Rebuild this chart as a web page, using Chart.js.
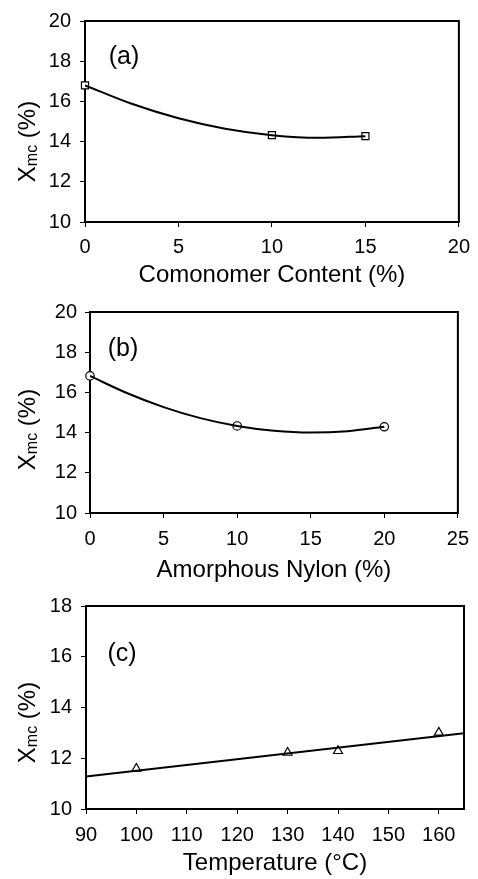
<!DOCTYPE html>
<html>
<head>
<meta charset="utf-8">
<script src="https://cdn.jsdelivr.net/npm/chart.js@4.4.0/dist/chart.umd.min.js"></script>
<style>
  html, body { margin: 0; padding: 0; background: #fff; }
  #wrap { position: relative; width: 478px; height: 879px; }
  .panel { position: absolute; left: 0; width: 478px; }
</style>
</head>
<body>
<div id="wrap">
  <div class="panel" style="top:0;height:290px"><canvas id="chartA"></canvas></div>
  <div class="panel" style="top:290px;height:295px"><canvas id="chartB"></canvas></div>
  <div class="panel" style="top:585px;height:294px"><canvas id="chartC"></canvas></div>
</div>
<script>
// ---- (a) crystallinity vs comonomer content ----
const comonomerContent = [0, 10, 15];
const xmcComonomer = [16.8, 14.32, 14.27];
const comonomerFitX = [0, 2.5, 5, 7.5, 10, 12.5, 15];
const comonomerFitY = [16.8, 15.88, 15.16, 14.64, 14.32, 14.19, 14.27];
const comonomerTicksX = [0, 5, 10, 15, 20];
const comonomerTicksY = [10, 12, 14, 16, 18, 20];

// ---- (b) crystallinity vs amorphous nylon ----
const nylonContent = [0, 10, 20];
const xmcNylon = [16.82, 14.33, 14.29];
const nylonFitX = [0, 2.5, 5, 7.5, 10, 12.5, 15, 17.5, 20];
const nylonFitY = [16.82, 15.97, 15.27, 14.72, 14.33, 14.09, 14.0, 14.07, 14.29];
const nylonTicksX = [0, 5, 10, 15, 20, 25];
const nylonTicksY = [10, 12, 14, 16, 18, 20];

// ---- (c) crystallinity vs temperature ----
const temperature = [100, 130, 140, 160];
const xmcTemperature = [11.59, 12.22, 12.29, 13.01];
const temperatureFitX = [90, 165];
const temperatureFitY = [11.28, 12.99];
const temperatureTicksX = [90, 100, 110, 120, 130, 140, 150, 160];
const temperatureTicksY = [10, 12, 14, 16, 18];

const FAMILY = '"Liberation Sans", Arial, Helvetica, sans-serif';

const toPoints = (xs, ys) => xs.map((x, i) => ({ x: x, y: ys[i] }));

// Frame, panel tag and the subscripted y-axis title
const panelDecor = {
  id: 'panelDecor',
  beforeDatasetsDraw(chart, args, opts) {
    const { ctx, chartArea: a } = chart;
    ctx.save();
    ctx.strokeStyle = '#000';
    ctx.lineWidth = 2;
    ctx.strokeRect(a.left, a.top, a.right - a.left, a.bottom - a.top);

    ctx.fillStyle = '#000';
    ctx.font = '25px ' + FAMILY;
    ctx.textAlign = 'center';
    ctx.textBaseline = 'middle';
    ctx.fillText(opts.tag, a.left + opts.tagDx, a.top + opts.tagDy);

    ctx.translate(35, (a.top + a.bottom) / 2 + opts.titleShift);
    ctx.rotate(-Math.PI / 2);
    ctx.textAlign = 'left';
    ctx.textBaseline = 'alphabetic';
    const big = '24px ' + FAMILY, small = '16px ' + FAMILY;
    ctx.font = big;
    const wX = ctx.measureText('X').width;
    const wP = ctx.measureText(' (%)').width;
    ctx.font = small;
    const wS = ctx.measureText('mc').width;
    let tx = -(wX + wS + wP) / 2;
    ctx.font = big; ctx.fillText('X', tx, 0); tx += wX;
    ctx.font = small; ctx.fillText('mc', tx, 2); tx += wS;
    ctx.font = big; ctx.fillText(' (%)', tx, 0);
    ctx.restore();
  }
};

function makePanel(id, cfg) {
  const axisBase = (ticks, min, max, fixedSize, horizontal, pad) => ({
    type: 'linear',
    min: min,
    max: max,
    afterBuildTicks(scale) { scale.ticks = ticks.map(v => ({ value: v })); },
    afterFit(scale) { if (horizontal) scale.height = fixedSize; else scale.width = fixedSize; },
    grid: { display: true, drawOnChartArea: false, drawTicks: true, tickLength: 5, color: '#000', lineWidth: 1 },
    border: { display: false },
    ticks: { color: '#000', font: { family: FAMILY, size: 20 }, padding: pad, maxRotation: 0, autoSkip: false }
  });

  const xAxis = axisBase(cfg.ticksX, cfg.xMin, cfg.xMax, cfg.xAxisHeight, true, cfg.xPad);
  xAxis.title = { display: true, text: cfg.xTitle, color: '#000', font: { family: FAMILY, size: 24 }, padding: { top: 0, bottom: cfg.titlePadBottom } };
  const yAxis = axisBase(cfg.ticksY, cfg.yMin, cfg.yMax, cfg.yAxisWidth, false, cfg.yPad);

  return new Chart(document.getElementById(id), {
    type: 'scatter',
    data: {
      datasets: [
        {
          data: toPoints(cfg.fitX, cfg.fitY),
          showLine: true,
          borderColor: '#000',
          borderWidth: 2,
          pointRadius: 0,
          cubicInterpolationMode: cfg.curved ? 'monotone' : 'default',
          tension: 0
        },
        {
          data: toPoints(cfg.x, cfg.y),
          showLine: false,
          pointStyle: cfg.marker,
          pointRadius: cfg.markerRadius,
          pointBackgroundColor: '#fff',
          pointBorderColor: '#000',
          pointBorderWidth: 1.2,
          clip: false
        }
      ]
    },
    options: {
      responsive: true,
      maintainAspectRatio: false,
      animation: false,
      layout: { padding: cfg.padding },
      plugins: {
        legend: { display: false },
        tooltip: { enabled: false },
        panelDecor: { tag: cfg.tag, tagDx: cfg.tagDx, tagDy: cfg.tagDy, titleShift: cfg.titleShift }
      },
      scales: { x: xAxis, y: yAxis }
    },
    plugins: [panelDecor]
  });
}

makePanel('chartA', {
  x: comonomerContent, y: xmcComonomer, fitX: comonomerFitX, fitY: comonomerFitY, curved: true,
  ticksX: comonomerTicksX, ticksY: comonomerTicksY, xMin: 0, xMax: 20, yMin: 10, yMax: 20,
  xTitle: 'Comonomer Content (%)', marker: 'rect', markerRadius: 5,
  tag: '(a)', tagDx: 39, tagDy: 36, titleShift: 20,
  padding: { top: 19, right: 14, left: 0, bottom: 0 },
  xAxisHeight: 68, yAxisWidth: 85, xPad: 8, yPad: 9, titlePadBottom: 0
});

makePanel('chartB', {
  x: nylonContent, y: xmcNylon, fitX: nylonFitX, fitY: nylonFitY, curved: true,
  ticksX: nylonTicksX, ticksY: nylonTicksY, xMin: 0, xMax: 25, yMin: 10, yMax: 20,
  xTitle: 'Amorphous Nylon (%)', marker: 'circle', markerRadius: 4.2,
  tag: '(b)', tagDx: 33, tagDy: 37, titleShift: 17,
  padding: { top: 22, right: 12, left: 0, bottom: 0 },
  xAxisHeight: 72, yAxisWidth: 90, xPad: 9, yPad: 8, titlePadBottom: 0
});

makePanel('chartC', {
  x: temperature, y: xmcTemperature, fitX: temperatureFitX, fitY: temperatureFitY, curved: false,
  ticksX: temperatureTicksX, ticksY: temperatureTicksY, xMin: 90, xMax: 165, yMin: 10, yMax: 18,
  xTitle: 'Temperature (°C)', marker: 'triangle', markerRadius: 5.2,
  tag: '(c)', tagDx: 36, tagDy: 48, titleShift: 15,
  padding: { top: 21, right: 14, left: 0, bottom: 0 },
  xAxisHeight: 70, yAxisWidth: 86, xPad: 9, yPad: 9, titlePadBottom: 1
});
</script>
</body>
</html>
